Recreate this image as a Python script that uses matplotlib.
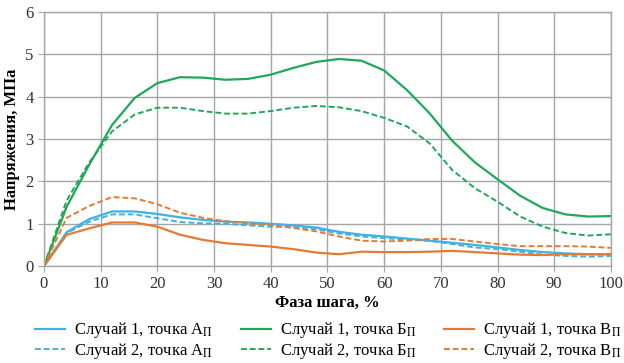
import numpy as np
import matplotlib.pyplot as plt

plt.rcParams['font.family'] = ['Liberation Serif', 'DejaVu Serif']
plt.rcParams['mathtext.fontset'] = 'stix'

# фаза шага, %
phase = [0, 4, 8, 12, 16, 20, 24, 28, 32, 36, 40, 44, 48, 52, 56, 60, 64,
         68, 72, 76, 80, 84, 88, 92, 96, 100]

# Случай 1
a1 = [0, 0.80, 1.11, 1.29, 1.29, 1.23, 1.15, 1.09, 1.05, 1.03, 1.00, 0.96,
      0.91, 0.81, 0.74, 0.70, 0.65, 0.60, 0.55, 0.50, 0.44, 0.38, 0.33,
      0.30, 0.28, 0.28]
b1 = [0, 1.40, 2.40, 3.33, 3.97, 4.32, 4.46, 4.45, 4.40, 4.42, 4.52, 4.68,
      4.82, 4.89, 4.85, 4.62, 4.16, 3.61, 2.96, 2.45, 2.05, 1.66, 1.37,
      1.22, 1.17, 1.18]
v1 = [0, 0.74, 0.89, 1.03, 1.03, 0.93, 0.74, 0.62, 0.54, 0.50, 0.46, 0.40,
      0.32, 0.28, 0.34, 0.33, 0.33, 0.34, 0.36, 0.33, 0.30, 0.27, 0.26,
      0.28, 0.28, 0.28]

# Случай 2
a2 = [0, 0.78, 1.05, 1.22, 1.22, 1.13, 1.04, 1.01, 1.00, 0.96, 0.93, 0.92,
      0.87, 0.77, 0.70, 0.66, 0.62, 0.60, 0.52, 0.44, 0.40, 0.34, 0.27,
      0.24, 0.22, 0.24]
b2 = [0, 1.55, 2.45, 3.18, 3.58, 3.74, 3.74, 3.66, 3.60, 3.60, 3.66, 3.74,
      3.78, 3.75, 3.66, 3.50, 3.30, 2.90, 2.27, 1.84, 1.52, 1.17, 0.93,
      0.78, 0.72, 0.75]
v2 = [0, 1.14, 1.42, 1.63, 1.60, 1.46, 1.26, 1.14, 1.06, 1.01, 0.97, 0.90,
      0.82, 0.70, 0.60, 0.58, 0.60, 0.64, 0.64, 0.58, 0.52, 0.47, 0.47,
      0.47, 0.46, 0.43]

c_a = '#3FB1E3'
c_b = '#1FA85A'
c_v = '#E57B33'
sub = r'$_{\Pi}$'

fig = plt.figure(figsize=(6.24, 3.63), dpi=100)
ax = fig.add_axes([0.0705, 0.267, 0.9085, 0.70])

ax.plot(phase, a1, color=c_a, lw=1.6, label='Случай 1, точка А' + sub)
ax.plot(phase, a2, color=c_a, lw=1.4, ls=(0, (3, 1.5)), label='Случай 2, точка А' + sub)
ax.plot(phase, b1, color=c_b, lw=1.6, label='Случай 1, точка Б' + sub)
ax.plot(phase, b2, color=c_b, lw=1.4, ls=(0, (3, 1.5)), label='Случай 2, точка Б' + sub)
ax.plot(phase, v1, color=c_v, lw=1.6, label='Случай 1, точка В' + sub)
ax.plot(phase, v2, color=c_v, lw=1.4, ls=(0, (3, 1.5)), label='Случай 2, точка В' + sub)

ax.set_xlim(0, 100)
ax.set_ylim(0, 6)
ax.set_xticks(range(0, 101, 10))
ax.set_yticks(range(0, 7))
ax.grid(True, color='#A6A6A6', lw=1.0)
ax.set_axisbelow(True)
for s in ax.spines.values():
    s.set_color('#A6A6A6')
    s.set_linewidth(1.0)
ax.tick_params(colors='#A6A6A6', labelcolor='#333333', labelsize=12, length=4)
for lab in ax.get_xticklabels() + ax.get_yticklabels():
    lab.set_family('Liberation Serif')

ax.set_xlabel('Фаза шага, %', fontsize=12, fontweight='bold', labelpad=2,
              family='Liberation Serif')
ax.set_ylabel('Напряжения, МПа', fontsize=12, fontweight='bold', labelpad=4,
              family='Liberation Serif')

ax.legend(loc='upper left', bbox_to_anchor=(-0.042, -0.155), ncol=3,
          frameon=False, prop={'family': 'Liberation Serif', 'size': 12},
          handlelength=1.8, columnspacing=1.65,
          labelspacing=0.05, handletextpad=0.55)

fig.savefig('out.png', dpi=100)
